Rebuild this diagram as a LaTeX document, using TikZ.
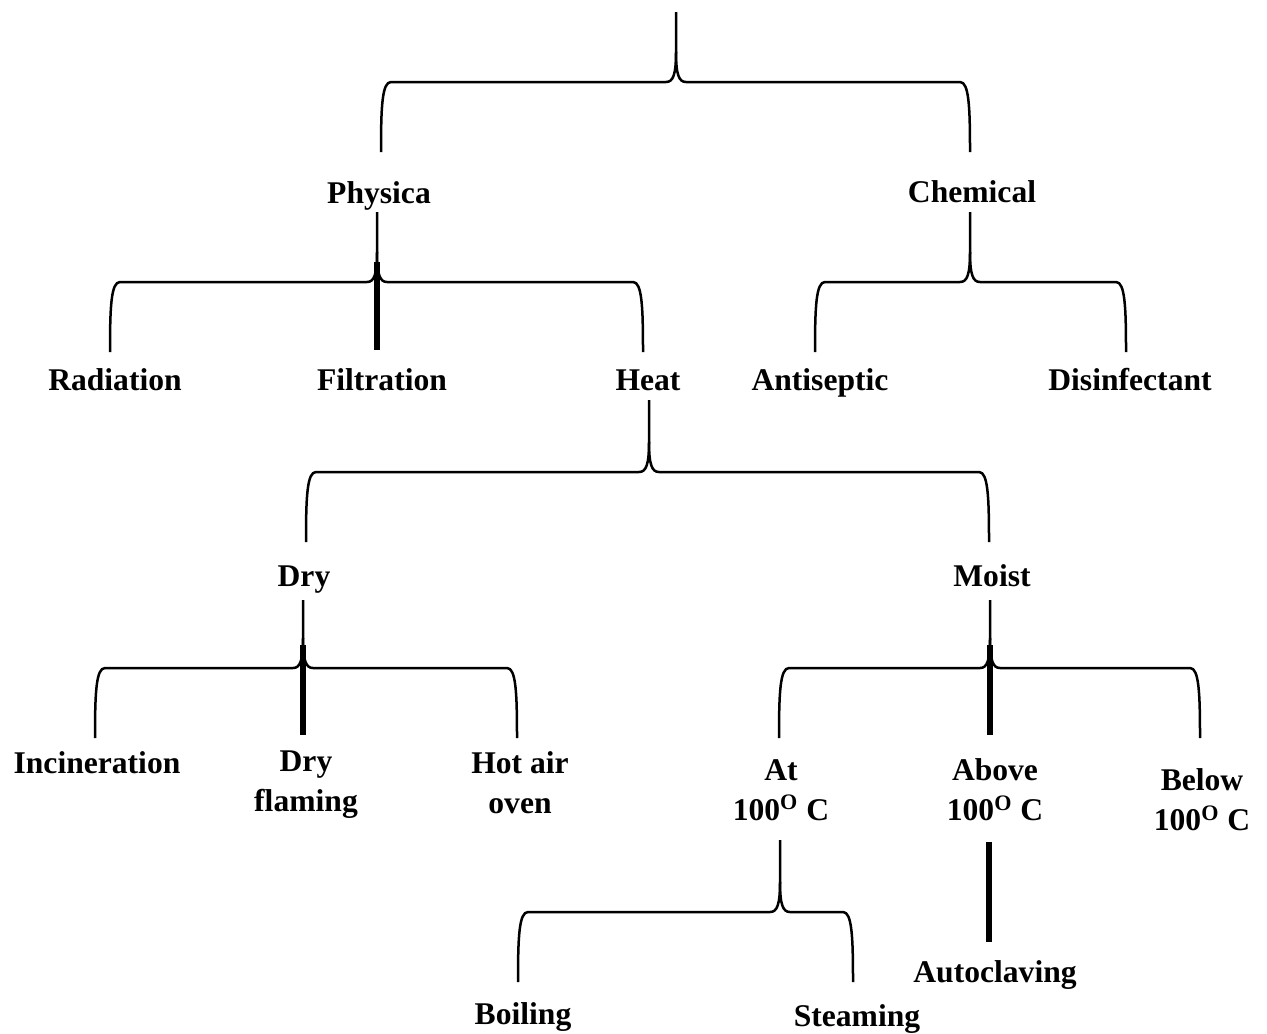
\documentclass[tikz,border=0pt]{standalone}
\usepackage{fontspec}
\setmainfont{Liberation Serif}
\begin{document}
\begin{tikzpicture}[x=0.5pt,y=-0.5pt,
  brace/.style={line width=1.25pt,line join=round},
  bar/.style={line width=3pt},
  lbl/.style={font=\fontsize{15.8}{20}\selectfont\bfseries,inner sep=0pt,align=center}]
\path[use as bounding box,fill=white] (0,0) rectangle (1267,1033);
\newcommand\brc[6]{%
\draw[brace] (#4,#6) .. controls (#4,#3+25) and (#4+1,#3) .. (#4+10,#3) -- (#1-10,#3) .. controls (#1-3,#3) and (#1,#3-7) .. (#1,#3-30) -- (#1,#2);
\draw[brace] (#5,#6) .. controls (#5,#3+25) and (#5-1,#3) .. (#5-10,#3) -- (#1+10,#3) .. controls (#1+3,#3) and (#1,#3-7) .. (#1,#3-30);}
% labels
\node[lbl] (physica) at (379,196) {Physica};
\node[lbl] (chemical) at (972,192) {Chemical};
\node[lbl] (radiation) at (115,380) {Radiation};
\node[lbl] (filtration) at (382,380) {Filtration};
\node[lbl] (heat) at (648,380) {Heat};
\node[lbl] (antiseptic) at (820,383) {Antiseptic};
\node[lbl] (disinfectant) at (1130,380) {Disinfectant};
\node[lbl] (dry) at (304,580) {Dry};
\node[lbl] (moist) at (992,576) {Moist};
\node[lbl] (incineration) at (97,763) {Incineration};
\node[lbl] (dryflaming) at (306,785) {Dry\\flaming};
\node[lbl] (hotair) at (520,783) {Hot air\\oven};
\node[lbl] (at100) at (781,790) {At\\100\textsuperscript{O} C};
\node[lbl] (above100) at (995,790) {Above\\100\textsuperscript{O} C};
\node[lbl] (below100) at (1202,800) {Below\\100\textsuperscript{O} C};
\node[lbl] (boiling) at (523,1017) {Boiling};
\node[lbl] (steaming) at (857,1019) {Steaming};
\node[lbl] (autoclaving) at (995,975) {Autoclaving};
% braces
\brc{676}{12}{82}{381}{970}{152}
\brc{377}{212}{282}{110}{643}{352}
\brc{970}{212}{282}{815}{1126}{352}
\brc{649}{400}{472}{306}{989}{542}
\brc{303}{600}{668}{95}{517}{738}
\brc{990}{600}{668}{779}{1200}{738}
\brc{780}{840}{912}{518}{853}{982}
% thick bars
\coordinate (f1) at (377,262); \coordinate (f2) at (377,350);
\draw[bar] (f1) -- (f2);
\coordinate (d1) at (303,645); \coordinate (d2) at (303,735);
\draw[bar] (d1) -- (d2);
\coordinate (m1) at (990,645); \coordinate (m2) at (990,735);
\draw[bar] (m1) -- (m2);
\coordinate (a1) at (989,842); \coordinate (a2) at (989,942);
\draw[bar] (a1) -- (a2);
\end{tikzpicture}
\end{document}
